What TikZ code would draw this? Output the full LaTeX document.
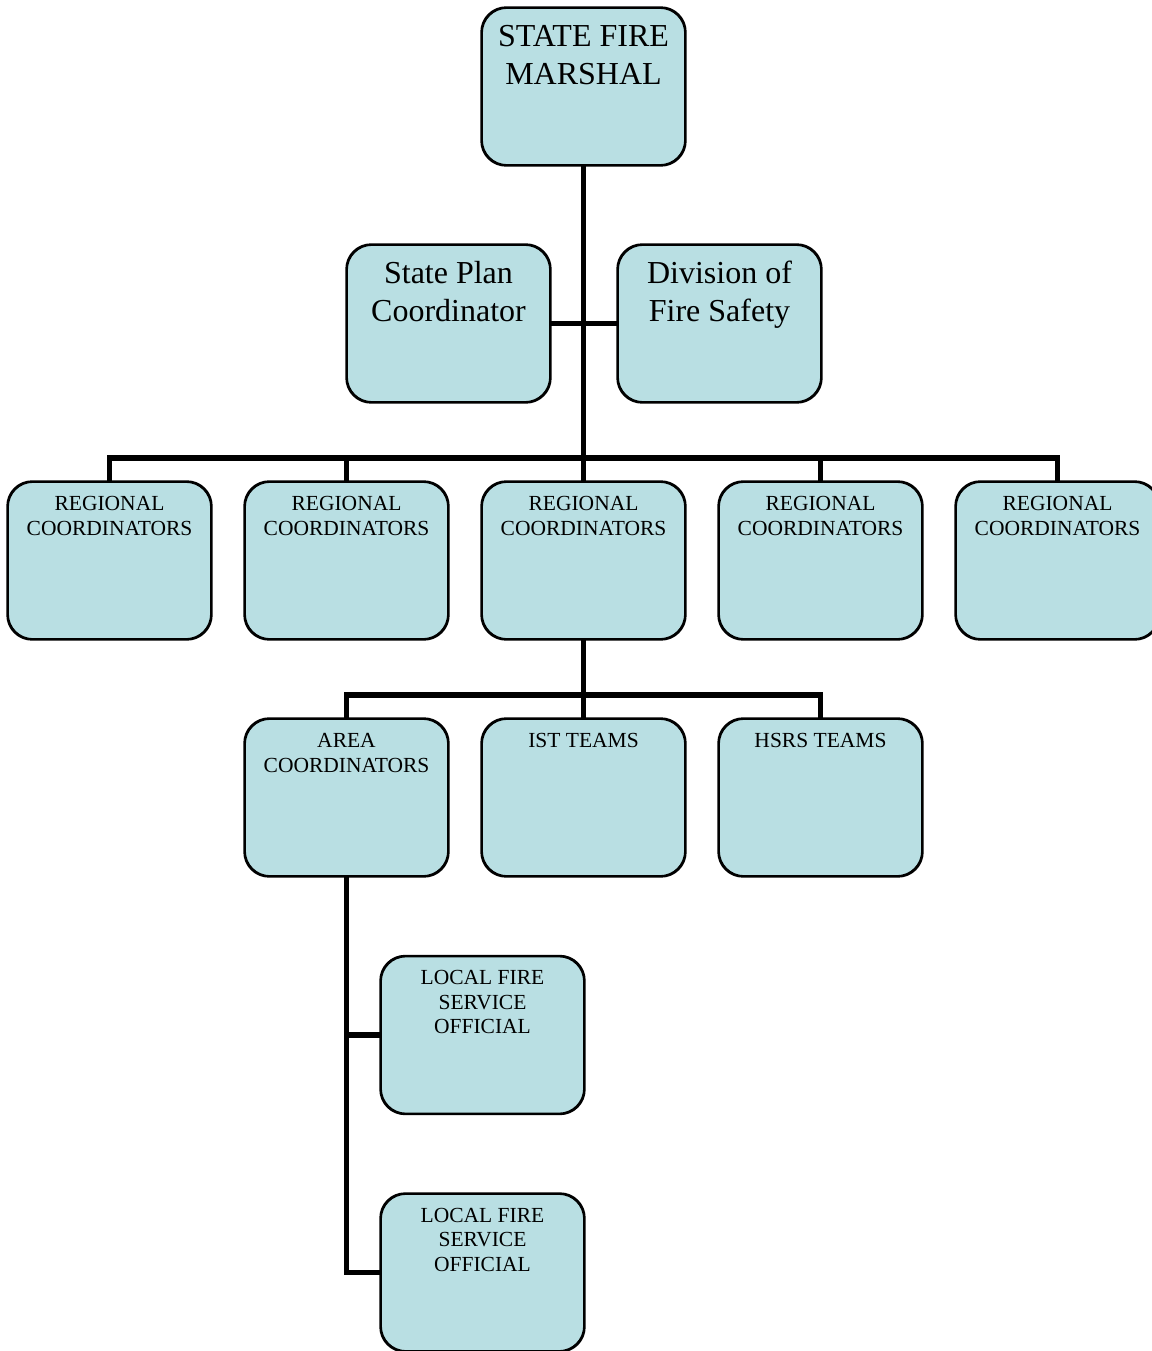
\documentclass[tikz,border=0pt]{standalone}
\usepackage{fontspec}
\setmainfont{Liberation Serif}
\definecolor{boxfill}{RGB}{185,223,227}
\tikzset{
  orgbox/.style={draw=black, line width=1.7pt, fill=boxfill, rounded corners=25pt,
    minimum width=203pt, minimum height=157pt, inner sep=0pt},
  bigtxt/.style={anchor=north, inner sep=0pt, align=center, font=\fontsize{32}{38}\selectfont},
  smalltxt/.style={anchor=north, inner sep=0pt, align=center, font=\fontsize{21.5}{24.5}\selectfont},
  conn/.style={draw=black, line width=5.3pt}
}
\begin{document}
\begin{tikzpicture}[x=1pt,y=-1pt]
\useasboundingbox (0,0) rectangle (1151,1351);
% boxes
\node[orgbox] (sfm) at (583.5,86.5) {};
\node[orgbox] (spc) at (448.5,323.5) {};
\node[orgbox] (dfs) at (719.5,323.5) {};
\node[orgbox] (r1) at (109.5,560.5) {};
\node[orgbox] (r2) at (346.5,560.5) {};
\node[orgbox] (r3) at (583.5,560.5) {};
\node[orgbox] (r4) at (820.5,560.5) {};
\node[orgbox] (r5) at (1057.5,560.5) {};
\node[orgbox] (area) at (346.5,797.5) {};
\node[orgbox] (ist) at (583.5,797.5) {};
\node[orgbox] (hsrs) at (820.5,797.5) {};
\node[orgbox] (lf1) at (482.5,1035) {};
\node[orgbox] (lf2) at (482.5,1272.5) {};
% connectors
\coordinate (busA) at (583.5,458);
\coordinate (busB) at (583.5,695);
\draw[conn] (sfm.south) -- (r3.north);
\draw[conn] (spc.east) -- (dfs.west);
\draw[conn] (r1.north) |- (r5.north |- busA) -- (r5.north);
\draw[conn] (r2.north) -- (r2.north |- busA);
\draw[conn] (r4.north) -- (r4.north |- busA);
\draw[conn] (r3.south) -- (ist.north);
\draw[conn] (area.north) |- (hsrs.north |- busB) -- (hsrs.north);
\draw[conn] (area.south) |- (lf2.west);
\draw[conn] (area.south |- lf1.west) -- (lf1.west);
% redraw box outlines over connector ends
\foreach \n in {sfm,spc,dfs,r1,r2,r3,r4,r5,area,ist,hsrs,lf1,lf2}{
  \draw[line width=1.7pt, rounded corners=25pt] (\n.south west) rectangle (\n.north east);
}
% texts
\node[bigtxt] (tsfm) at ([yshift=-18pt]sfm.north) {STATE FIRE\\MARSHAL};
\node[bigtxt] (tspc) at ([yshift=-17pt]spc.north) {State Plan\\Coordinator};
\node[bigtxt] (tdfs) at ([yshift=-17pt]dfs.north) {Division of\\Fire Safety};
\node[smalltxt] (tr1) at ([yshift=-15pt]r1.north) {REGIONAL\\COORDINATORS};
\node[smalltxt] (tr2) at ([yshift=-15pt]r2.north) {REGIONAL\\COORDINATORS};
\node[smalltxt] (tr3) at ([yshift=-15pt]r3.north) {REGIONAL\\COORDINATORS};
\node[smalltxt] (tr4) at ([yshift=-15pt]r4.north) {REGIONAL\\COORDINATORS};
\node[smalltxt] (tr5) at ([yshift=-15pt]r5.north) {REGIONAL\\COORDINATORS};
\node[smalltxt] (tarea) at ([yshift=-15pt]area.north) {AREA\\COORDINATORS};
\node[smalltxt] (tist) at ([yshift=-15pt]ist.north) {IST TEAMS};
\node[smalltxt] (thsrs) at ([yshift=-15pt]hsrs.north) {HSRS TEAMS};
\node[smalltxt] (tlf1) at ([yshift=-14.5pt]lf1.north) {LOCAL FIRE\\SERVICE\\OFFICIAL};
\node[smalltxt] (tlf2) at ([yshift=-14.5pt]lf2.north) {LOCAL FIRE\\SERVICE\\OFFICIAL};
\end{tikzpicture}
\end{document}
